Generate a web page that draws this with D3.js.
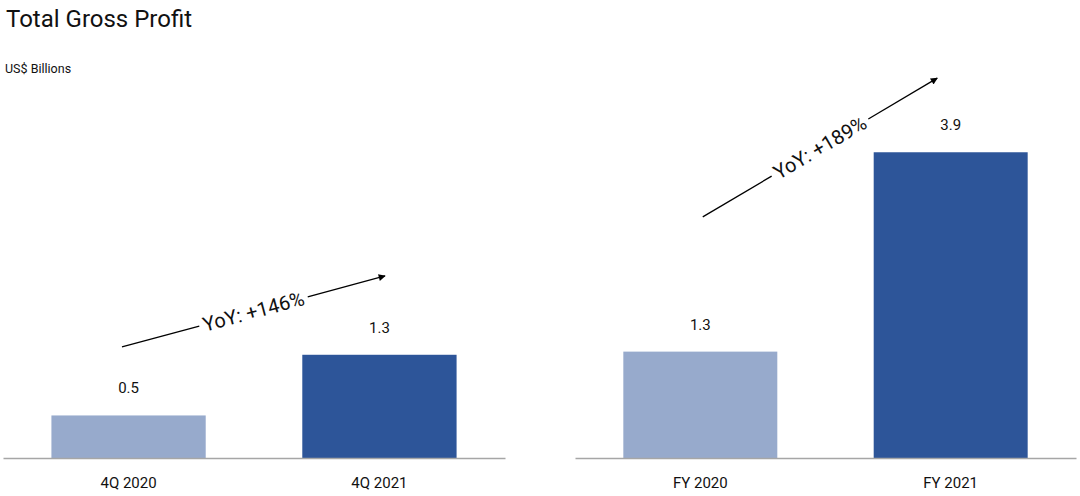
<!DOCTYPE html>
<html><head><meta charset="utf-8">
<script src="https://cdn.jsdelivr.net/npm/d3@7"></script>
<style>body{margin:0;background:#fff;} svg{display:block;font-family:Roboto,"Open Sans",sans-serif;}</style>
</head><body>
<svg id="c" width="1080" height="496"></svg>
<script>
const quarterCats = ["4Q 2020", "4Q 2021"];
const quarterVals = [0.54, 1.31];
const quarterLabels = ["0.5", "1.3"];
const yearCats = ["FY 2020", "FY 2021"];
const yearVals = [1.35, 3.88];
const yearLabels = ["1.3", "3.9"];
const barColors = ["#97aacc", "#2d5599"];
const yoyTexts = ["YoY: +146%", "YoY: +189%"];
// arrow annotations: [x fraction of panel, value] start and end
const yoyArrows = [[[0.237, 1.41], [0.761, 2.31]], [[0.255, 3.06], [0.723, 4.82]]];

const svg = d3.select("#c");
const baseY = 458, unitPx = 78.8;
const y = d3.scaleLinear().domain([0, 4]).range([baseY, baseY - 4 * unitPx]);

svg.append("defs").append("marker").attr("id","ah").attr("viewBox","0 0 10 10")
  .attr("refX",9).attr("refY",5).attr("markerWidth",9).attr("markerHeight",7)
  .attr("markerUnits","userSpaceOnUse").attr("orient","auto")
  .append("path").attr("d","M0,0L10,5L0,10z").attr("fill","#000");

svg.append("text").attr("x", 6).attr("y", 27).attr("font-size", 24).attr("fill","#111").text("Total Gross Profit");
svg.append("text").attr("x", 5).attr("y", 73).attr("font-size", 12.5).attr("fill","#111").text("US$ Billions");

const panels = [
  {cats: quarterCats, vals: quarterVals, labels: quarterLabels, range: [3, 505], text: yoyTexts[0], arrow: yoyArrows[0]},
  {cats: yearCats, vals: yearVals, labels: yearLabels, range: [575, 1076], text: yoyTexts[1], arrow: yoyArrows[1]}
];

panels.forEach(p => {
  const x = d3.scaleBand().domain(p.cats).range(p.range).paddingInner(0.385).paddingOuter(0.193);
  const g = svg.append("g");
  g.selectAll("rect").data(p.vals).join("rect")
    .attr("x", (d,i) => x(p.cats[i])).attr("width", x.bandwidth())
    .attr("y", d => y(d)).attr("height", d => y(0) - y(d))
    .attr("fill", (d,i) => barColors[i]);
  const ax = g.append("g").attr("transform", `translate(0,${baseY})`)
    .call(d3.axisBottom(x).tickSize(0).tickPadding(19));
  ax.select(".domain").attr("stroke", "#a6a6a6").attr("stroke-width", 1.3);
  ax.selectAll("text").attr("font-size", 15).attr("fill", "#111").attr("font-family", "Roboto");
  g.selectAll("text.val").data(p.vals).join("text").attr("class","val")
    .attr("x", (d,i) => x(p.cats[i]) + x.bandwidth()/2).attr("y", d => y(d) - 22)
    .attr("text-anchor","middle").attr("font-size", 15).attr("fill","#111")
    .text((d,i) => p.labels[i]);
  // YoY arrow
  const w = p.range[1] - p.range[0];
  const x0 = p.range[0] + p.arrow[0][0]*w, y0 = y(p.arrow[0][1]);
  const x1 = p.range[0] + p.arrow[1][0]*w, y1 = y(p.arrow[1][1]);
  const len = Math.hypot(x1-x0, y1-y0);
  const ang = Math.atan2(y1-y0, x1-x0);
  const mx = (x0+x1)/2, my = (y0+y1)/2;
  const t = g.append("text").attr("transform", `translate(${mx},${my}) rotate(${ang*180/Math.PI})`)
    .attr("text-anchor","middle").attr("dy","0.35em").attr("font-size", 20).attr("fill","#111").text(p.text);
  const tl = t.node().getComputedTextLength();
  const gap = tl/2 + 4;
  const ux = Math.cos(ang), uy = Math.sin(ang);
  g.append("line").attr("x1", x0).attr("y1", y0).attr("x2", mx - ux*gap).attr("y2", my - uy*gap)
    .attr("stroke","#000").attr("stroke-width",1.3);
  g.append("line").attr("x1", mx + ux*gap).attr("y1", my + uy*gap).attr("x2", x1).attr("y2", y1)
    .attr("stroke","#000").attr("stroke-width",1.3).attr("marker-end","url(#ah)");
});
</script>
</body></html>
